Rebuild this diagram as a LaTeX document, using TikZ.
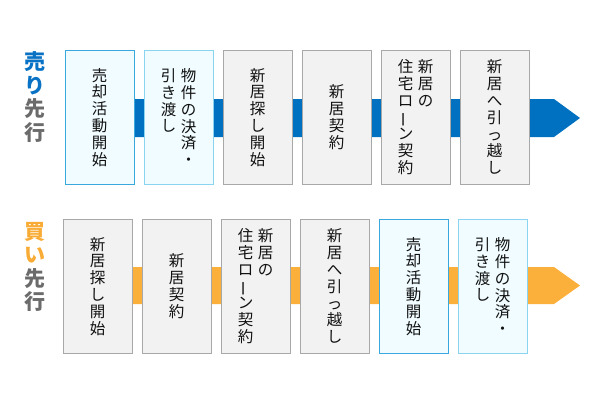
\documentclass[tikz,border=0pt]{standalone}
\usepackage{fontspec}
\newfontfamily\jp{Noto Sans CJK JP}
\definecolor{barblue}{HTML}{0070C0}
\definecolor{barorange}{HTML}{FBB03B}
\definecolor{lblblue}{HTML}{0A72C4}
\definecolor{lblorange}{HTML}{F9AC35}
\definecolor{lblgray}{HTML}{6B6B6B}
\definecolor{fillgray}{HTML}{F2F2F2}
\definecolor{linegray}{HTML}{A8A8A8}
\definecolor{fillcyan}{HTML}{F0FCFF}
\definecolor{lineblueA}{HTML}{3AA8DC}
\definecolor{lineblueB}{HTML}{8AD4F2}
\definecolor{txt}{HTML}{111111}
\newcommand{\vlong}{\rotatebox[origin=c]{90}{ー}}
\begin{document}
\begin{tikzpicture}[x=1pt,y=-1pt,
  stepgray/.style={draw=linegray,fill=fillgray,line width=1.2pt,minimum width=69pt,minimum height=134pt,inner sep=0pt,anchor=north west},
  stepblueA/.style={stepgray,draw=lineblueA,fill=fillcyan},
  stepblueB/.style={stepgray,draw=lineblueB,fill=fillcyan},
  vtext/.style={font=\jp\fontsize{15.5pt}{16.8pt}\selectfont,text=txt,align=center,inner sep=0pt},
  lbl/.style={font=\jp\bfseries\fontsize{21pt}{23.5pt}\selectfont,align=center,inner sep=0pt}
]
\useasboundingbox (0,0) rectangle (600,400);

% ---------- top row : 売り先行 ----------
\coordinate (tipA) at (580,118);
\fill[barblue] (99,99) -- (554,99) -- (tipA) -- (554,137) -- (99,137) -- cycle;

\node[stepblueA] (a1) at (64.6,49.6) {};
\node[stepblueB] (a2) at (143.6,49.6) {};
\node[stepgray]  (a3) at (222.6,49.6) {};
\node[stepgray]  (a4) at (301.6,49.6) {};
\node[stepgray]  (a5) at (380.6,49.6) {};
\node[stepgray]  (a6) at (459.6,49.6) {};

\node[vtext] (a1t) at (a1.center) {売\\却\\活\\動\\開\\始};
\node[vtext] (a2r) at ([xshift=10pt]a2.center) {物\\件\\の\\決\\済\\・};
\node[vtext,anchor=north] (a2l) at ([xshift=-20pt]a2r.north) {引\\き\\渡\\し};
\node[vtext] (a3t) at (a3.center) {新\\居\\探\\し\\開\\始};
\node[vtext] (a4t) at (a4.center) {新\\居\\契\\約};
\node[vtext] (a5l) at ([xshift=-10pt]a5.center) {住\\宅\\ロ\\\vlong\\ン\\契\\約};
\node[vtext,anchor=north] (a5r) at ([xshift=20pt]a5l.north) {新\\居\\の};
\node[vtext] (a6t) at (a6.center) {新\\居\\へ\\引\\っ\\越\\し};

\node[lbl] (la) at (35,97) {\textcolor{lblblue}{売}\\\textcolor{lblblue}{り}\\\textcolor{lblgray}{先}\\\textcolor{lblgray}{行}};

% ---------- bottom row : 買い先行 ----------
\coordinate (tipB) at (580,285.5);
\fill[barorange] (97,267) -- (554,267) -- (tipB) -- (554,304) -- (97,304) -- cycle;

\node[stepgray]  (b1) at (62.6,218.6) {};
\node[stepgray]  (b2) at (141.6,218.6) {};
\node[stepgray]  (b3) at (220.6,218.6) {};
\node[stepgray]  (b4) at (299.6,218.6) {};
\node[stepblueA] (b5) at (378.6,218.6) {};
\node[stepblueB] (b6) at (457.6,218.6) {};

\node[vtext] (b1t) at (b1.center) {新\\居\\探\\し\\開\\始};
\node[vtext] (b2t) at (b2.center) {新\\居\\契\\約};
\node[vtext] (b3l) at ([xshift=-10pt]b3.center) {住\\宅\\ロ\\\vlong\\ン\\契\\約};
\node[vtext,anchor=north] (b3r) at ([xshift=20pt]b3l.north) {新\\居\\の};
\node[vtext] (b4t) at (b4.center) {新\\居\\へ\\引\\っ\\越\\し};
\node[vtext] (b5t) at (b5.center) {売\\却\\活\\動\\開\\始};
\node[vtext] (b6r) at ([xshift=10pt]b6.center) {物\\件\\の\\決\\済\\・};
\node[vtext,anchor=north] (b6l) at ([xshift=-20pt]b6r.north) {引\\き\\渡\\し};

\node[lbl] (lb) at (35,267) {\textcolor{lblorange}{買}\\\textcolor{lblorange}{い}\\\textcolor{lblgray}{先}\\\textcolor{lblgray}{行}};
\end{tikzpicture}
\end{document}
